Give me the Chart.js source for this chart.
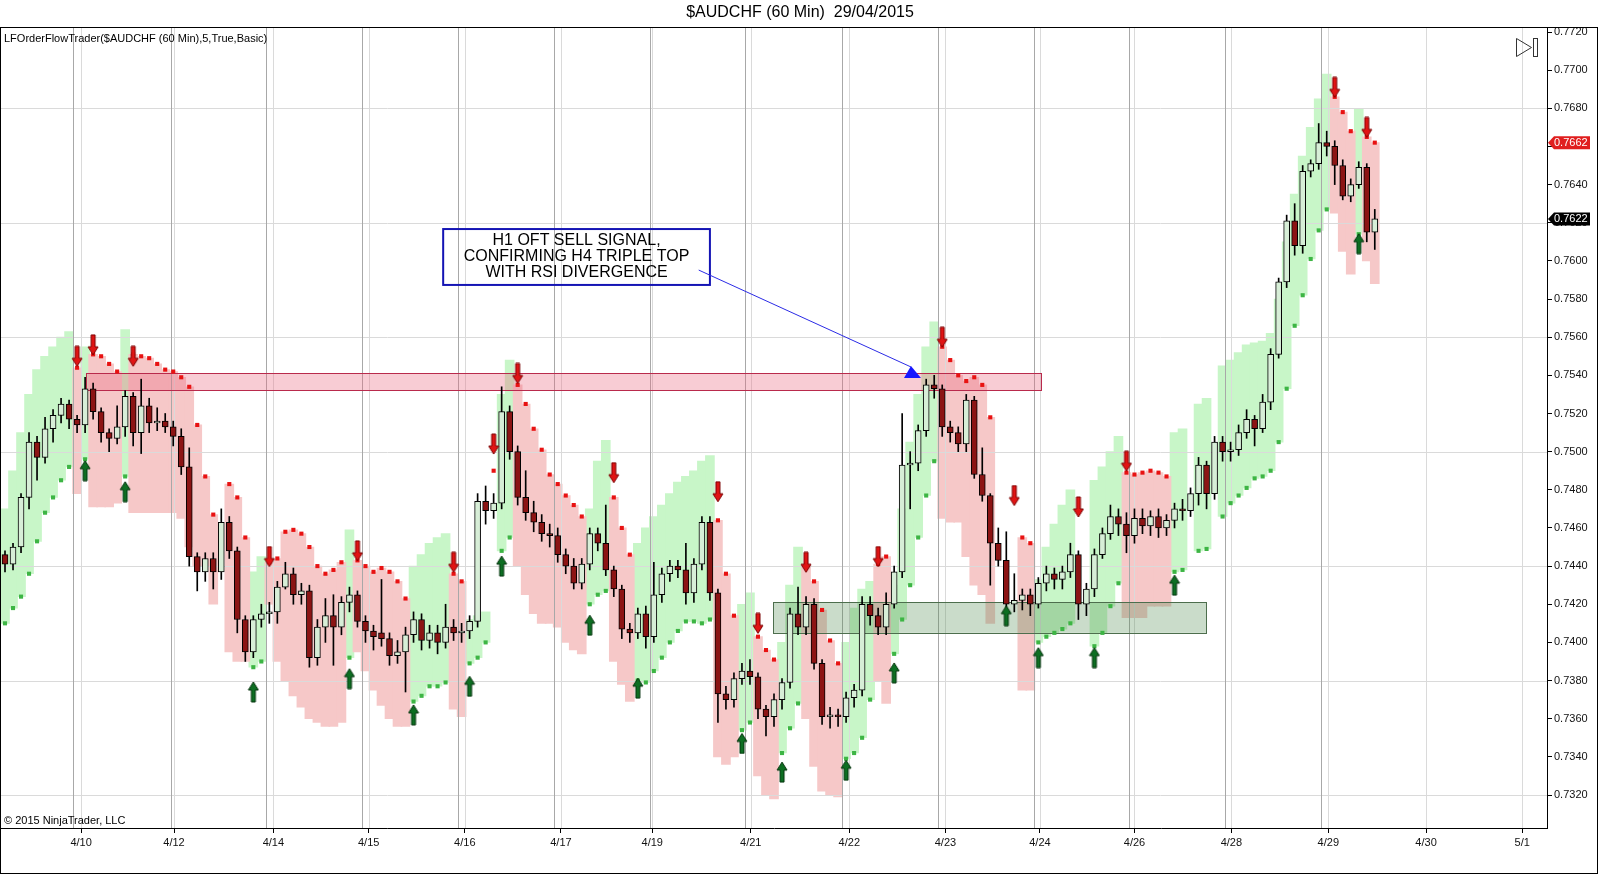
<!DOCTYPE html>
<html>
<head>
<meta charset="utf-8">
<title>$AUDCHF (60 Min) 29/04/2015</title>
<script src="https://cdn.jsdelivr.net/npm/chart.js@4.4.1/dist/chart.umd.min.js"></script>
<style>
  html, body { margin: 0; padding: 0; background: #fff; }
  #wrap { position: relative; width: 1600px; height: 874px; }
</style>
</head>
<body>
<div id="wrap"><canvas id="chart" width="1600" height="874"></canvas></div>
<script>
const _ = null;

// price bars (one bar per 2 hours)
const opens = [
  0.7446,0.7441,0.7450,0.7476,0.7505,0.7497,0.7512,0.7519,0.7525,0.7517,
  0.7514,0.7533,0.7521,0.7510,0.7507,0.7513,0.7529,0.7510,0.7524,0.7515,
  0.7516,0.7513,0.7508,0.7492,0.7445,0.7437,0.7444,0.7437,0.7463,0.7448,
  0.7412,0.7395,0.7412,0.7415,0.7416,0.7429,0.7436,0.7425,0.7427,0.7392,
  0.7408,0.7414,0.7408,0.7421,0.7425,0.7411,0.7406,0.7405,0.7402,0.7393,
  0.7395,0.7404,0.7412,0.7401,0.7405,0.7400,0.7408,0.7405,0.7406,0.7411,
  0.7474,0.7469,0.7473,0.7521,0.7500,0.7476,0.7468,0.7463,0.7457,0.7456,
  0.7446,0.7440,0.7431,0.7441,0.7457,0.7452,0.7438,0.7428,0.7407,0.7405,
  0.7415,0.7403,0.7425,0.7436,0.7440,0.7438,0.7426,0.7441,0.7463,0.7426,
  0.7373,0.7370,0.7381,0.7385,0.7382,0.7365,0.7361,0.7370,0.7379,0.7415,
  0.7408,0.7420,0.7389,0.7361,0.7362,0.7361,0.7371,0.7375,0.7420,0.7414,
  0.7408,0.7420,0.7437,0.7493,0.7494,0.7511,0.7535,0.7533,0.7513,0.7510,
  0.7504,0.7527,0.7488,0.7477,0.7452,0.7443,0.7420,0.7422,0.7425,0.7420,
  0.7431,0.7436,0.7433,0.7437,0.7446,0.7420,0.7428,0.7446,0.7457,0.7466,
  0.7462,0.7456,0.7465,0.7461,0.7466,0.7460,0.7464,0.7470,0.7469,0.7478,
  0.7493,0.7478,0.7505,0.7500,0.7501,0.7510,0.7517,0.7512,0.7526,0.7551,
  0.7589,0.7621,0.7608,0.7647,0.7651,0.7662,0.7660,0.7650,0.7634,0.7640,
  0.7649,0.7615
];
const highs = [
  0.7448,0.7452,0.7478,0.7510,0.7508,0.7518,0.7522,0.7528,0.7527,0.7519,
  0.7539,0.7536,0.7523,0.7512,0.7524,0.7532,0.7531,0.7538,0.7528,0.7523,
  0.7520,0.7516,0.7512,0.7502,0.7447,0.7447,0.7447,0.7470,0.7466,0.7450,
  0.7414,0.7414,0.7420,0.7421,0.7432,0.7442,0.7439,0.7431,0.7430,0.7412,
  0.7423,0.7425,0.7424,0.7429,0.7427,0.7414,0.7409,0.7433,0.7405,0.7401,
  0.7408,0.7416,0.7415,0.7409,0.7409,0.7420,0.7412,0.7410,0.7414,0.7478,
  0.7482,0.7478,0.7534,0.7524,0.7503,0.7490,0.7474,0.7467,0.7462,0.7460,
  0.7449,0.7444,0.7444,0.7460,0.7460,0.7472,0.7440,0.7430,0.7410,0.7418,
  0.7419,0.7442,0.7439,0.7443,0.7443,0.7452,0.7444,0.7466,0.7466,0.7428,
  0.7377,0.7384,0.7389,0.7391,0.7384,0.7367,0.7373,0.7381,0.7418,0.7429,
  0.7424,0.7423,0.7391,0.7366,0.7365,0.7374,0.7378,0.7424,0.7424,0.7418,
  0.7426,0.7440,0.7520,0.7500,0.7514,0.7538,0.7540,0.7535,0.7516,0.7513,
  0.7530,0.7529,0.7502,0.7478,0.7460,0.7458,0.7436,0.7428,0.7428,0.7434,
  0.7440,0.7439,0.7440,0.7452,0.7448,0.7431,0.7449,0.7460,0.7472,0.7470,
  0.7468,0.7470,0.7470,0.7469,0.7470,0.7467,0.7473,0.7475,0.7481,0.7497,
  0.7495,0.7508,0.7508,0.7505,0.7514,0.7522,0.7519,0.7530,0.7554,0.7591,
  0.7624,0.7630,0.7650,0.7653,0.7672,0.7668,0.7663,0.7653,0.7643,0.7652,
  0.7651,0.7627
];
const lows = [
  0.7437,0.7438,0.7447,0.7470,0.7485,0.7494,0.7505,0.7515,0.7512,0.7510,
  0.7510,0.7517,0.7505,0.7500,0.7504,0.7508,0.7503,0.7499,0.7510,0.7511,
  0.7510,0.7503,0.7488,0.7440,0.7427,0.7432,0.7428,0.7433,0.7444,0.7405,
  0.7390,0.7392,0.7408,0.7410,0.7410,0.7428,0.7420,0.7420,0.7387,0.7388,
  0.7400,0.7388,0.7404,0.7416,0.7408,0.7400,0.7396,0.7398,0.7388,0.7389,
  0.7374,0.7400,0.7396,0.7397,0.7394,0.7397,0.7401,0.7400,0.7402,0.7408,
  0.7462,0.7465,0.7470,0.7496,0.7472,0.7464,0.7458,0.7453,0.7450,0.7442,
  0.7436,0.7428,0.7428,0.7438,0.7448,0.7435,0.7424,0.7402,0.7400,0.7402,
  0.7397,0.7400,0.7421,0.7432,0.7434,0.7420,0.7421,0.7438,0.7422,0.7358,
  0.7365,0.7366,0.7378,0.7378,0.7360,0.7351,0.7356,0.7365,0.7376,0.7404,
  0.7404,0.7386,0.7357,0.7355,0.7356,0.7358,0.7366,0.7372,0.7409,0.7404,
  0.7404,0.7418,0.7434,0.7470,0.7490,0.7508,0.7528,0.7508,0.7505,0.7500,
  0.7500,0.7486,0.7474,0.7430,0.7440,0.7414,0.7416,0.7417,0.7414,0.7418,
  0.7427,0.7428,0.7428,0.7434,0.7412,0.7414,0.7424,0.7444,0.7454,0.7456,
  0.7447,0.7452,0.7457,0.7456,0.7455,0.7456,0.7460,0.7464,0.7466,0.7472,
  0.7470,0.7475,0.7495,0.7495,0.7498,0.7507,0.7503,0.7510,0.7522,0.7549,
  0.7586,0.7603,0.7604,0.7644,0.7648,0.7655,0.7640,0.7632,0.7631,0.7638,
  0.7610,0.7606
];
const closes = [
  0.7441,0.7450,0.7476,0.7505,0.7497,0.7512,0.7519,0.7525,0.7517,0.7514,
  0.7533,0.7521,0.7510,0.7507,0.7513,0.7529,0.7510,0.7524,0.7515,0.7516,
  0.7513,0.7508,0.7492,0.7445,0.7437,0.7444,0.7437,0.7463,0.7448,0.7412,
  0.7395,0.7412,0.7415,0.7416,0.7429,0.7436,0.7425,0.7427,0.7392,0.7408,
  0.7414,0.7408,0.7421,0.7425,0.7411,0.7406,0.7403,0.7402,0.7393,0.7395,
  0.7404,0.7412,0.7401,0.7405,0.7400,0.7408,0.7405,0.7406,0.7411,0.7474,
  0.7469,0.7473,0.7521,0.7500,0.7476,0.7468,0.7463,0.7457,0.7456,0.7446,
  0.7440,0.7431,0.7441,0.7457,0.7452,0.7438,0.7428,0.7407,0.7405,0.7415,
  0.7403,0.7425,0.7436,0.7440,0.7438,0.7426,0.7441,0.7463,0.7426,0.7373,
  0.7370,0.7381,0.7385,0.7382,0.7365,0.7361,0.7370,0.7379,0.7415,0.7408,
  0.7420,0.7389,0.7361,0.7362,0.7361,0.7371,0.7375,0.7420,0.7414,0.7408,
  0.7420,0.7437,0.7493,0.7494,0.7511,0.7535,0.7533,0.7513,0.7510,0.7504,
  0.7527,0.7488,0.7477,0.7452,0.7443,0.7420,0.7422,0.7425,0.7420,0.7431,
  0.7436,0.7433,0.7437,0.7446,0.7420,0.7428,0.7446,0.7457,0.7466,0.7462,
  0.7456,0.7465,0.7461,0.7466,0.7460,0.7464,0.7470,0.7469,0.7478,0.7493,
  0.7478,0.7505,0.7500,0.7501,0.7510,0.7517,0.7512,0.7526,0.7551,0.7589,
  0.7621,0.7608,0.7647,0.7651,0.7662,0.7660,0.7650,0.7634,0.7640,0.7649,
  0.7615,0.7622
];

// order flow indicator: long stop (green) with its cloud top, short stop (red) with its cloud bottom
const longStop = [
  0.7410,0.7418,0.7424,0.7436,0.7453,0.7468,0.7476,0.7485,0.7492,_,
  0.7496,_,_,_,_,0.7487,_,_,_,_,
  _,_,_,_,_,_,_,_,_,_,
  _,0.7387,0.7390,_,_,_,_,_,_,_,
  _,_,_,0.7392,_,_,_,_,_,_,
  _,0.7369,0.7372,0.7377,0.7377,0.7379,_,_,0.7389,0.7392,
  0.7400,_,0.7448,0.7455,_,_,_,_,_,_,
  _,_,_,0.7420,0.7425,0.7427,_,_,_,0.7380,
  0.7379,0.7385,0.7392,0.7400,0.7406,0.7411,0.7411,0.7410,0.7412,_,
  _,_,0.7354,0.7358,_,_,_,0.7342,0.7355,0.7368,
  _,_,_,_,_,0.7339,0.7342,0.7350,0.7370,_,
  _,0.7394,0.7412,0.7430,0.7455,0.7477,0.7495,_,_,_,
  _,_,_,_,_,_,_,_,_,0.7400,
  0.7403,0.7405,0.7407,0.7410,_,_,0.7398,0.7405,0.7419,0.7431,
  _,_,_,_,_,_,0.7437,0.7438,_,0.7448,
  0.7449,_,0.7466,0.7473,0.7477,0.7481,0.7486,0.7487,0.7490,0.7505,
  0.7533,0.7566,0.7582,0.7601,0.7616,0.7627,_,_,_,0.7614,
  _,_
];
const longCloudTop = [
  0.7470,0.7490,0.7510,0.7530,0.7543,0.7550,0.7555,0.7560,0.7563,_,
  0.7555,_,_,_,_,0.7564,_,_,_,_,
  _,_,_,_,_,_,_,_,_,_,
  _,0.7437,0.7445,_,_,_,_,_,_,_,
  _,_,_,0.7459,_,_,_,_,_,_,
  _,0.7440,0.7446,0.7452,0.7455,0.7457,_,_,0.7412,0.7414,
  0.7416,_,0.7530,0.7548,_,_,_,_,_,_,
  _,_,_,0.7470,0.7495,0.7506,_,_,_,0.7452,
  0.7460,0.7466,0.7472,0.7478,0.7484,0.7487,0.7490,0.7495,0.7498,_,
  _,_,0.7420,0.7426,_,_,_,0.7400,0.7430,0.7450,
  _,_,_,_,_,0.7400,0.7418,0.7428,0.7432,_,
  _,0.7430,0.7470,0.7505,0.7530,0.7555,0.7568,_,_,_,
  _,_,_,_,_,_,_,_,_,0.7433,
  0.7450,0.7462,0.7472,0.7480,_,_,0.7485,0.7492,0.7500,0.7508,
  _,_,_,_,_,_,0.7510,0.7512,_,0.7525,
  0.7528,_,0.7545,0.7548,0.7552,0.7556,0.7557,0.7558,0.7562,0.7580,
  0.7610,0.7635,0.7655,0.7670,0.7685,0.7698,_,_,_,0.7680,
  _,_
];
const shortStop = [
  _,_,_,_,_,_,_,_,_,0.7544,
  _,0.7551,0.7550,0.7546,0.7542,_,0.7551,0.7550,0.7549,0.7546,
  0.7543,0.7542,0.7539,0.7534,0.7514,0.7487,0.7467,_,0.7483,0.7476,
  0.7455,_,_,0.7442,0.7444,0.7458,0.7459,0.7457,0.7450,0.7440,
  0.7436,0.7438,0.7442,_,0.7443,0.7440,0.7437,0.7439,0.7437,0.7432,
  0.7423,_,_,_,_,_,0.7436,0.7432,_,_,
  _,0.7490,_,_,0.7535,0.7525,0.7512,0.7501,0.7488,0.7483,
  0.7477,0.7472,0.7466,_,_,_,0.7476,0.7460,0.7446,_,
  _,_,_,_,_,_,_,_,_,0.7464,
  0.7436,0.7414,_,_,0.7403,0.7396,0.7391,_,_,_,
  0.7441,0.7432,0.7417,0.7401,0.7389,_,_,_,_,0.7441,
  0.7445,_,_,_,_,_,_,0.7555,0.7548,0.7540,
  0.7537,0.7539,0.7535,0.7518,_,_,_,0.7455,0.7452,_,
  _,_,_,_,_,_,_,_,_,_,
  0.7489,0.7488,0.7489,0.7490,0.7489,0.7487,_,_,_,_,
  _,_,_,_,_,_,_,_,_,_,
  _,_,_,_,_,_,0.7686,0.7678,0.7668,_,
  0.7665,0.7662
];
const shortCloudBottom = [
  _,_,_,_,_,_,_,_,_,0.7478,
  _,0.7471,0.7471,0.7471,0.7473,_,0.7468,0.7468,0.7468,0.7468,
  0.7468,0.7468,0.7465,0.7450,0.7440,0.7440,0.7420,_,0.7395,0.7390,
  0.7390,_,_,0.7420,0.7390,0.7380,0.7372,0.7366,0.7360,0.7358,
  0.7356,0.7356,0.7358,_,0.7395,0.7385,0.7375,0.7367,0.7360,0.7356,
  0.7356,_,_,_,_,_,0.7365,0.7361,_,_,
  _,_,_,_,0.7440,0.7425,0.7415,0.7410,0.7410,0.7408,
  0.7400,0.7396,0.7394,_,_,_,0.7390,0.7378,0.7369,_,
  _,_,_,_,_,_,_,_,_,0.7340,
  0.7336,0.7340,_,_,0.7330,0.7320,0.7318,_,_,_,
  0.7360,0.7335,0.7322,0.7320,0.7319,_,_,_,_,0.7380,
  0.7368,_,_,_,_,_,_,0.7465,0.7463,0.7463,
  0.7445,0.7430,0.7425,0.7410,_,_,_,0.7375,0.7375,_,
  _,_,_,_,_,_,_,_,_,_,
  0.7413,0.7413,0.7413,0.7419,0.7419,0.7419,_,_,_,_,
  _,_,_,_,_,_,_,_,_,_,
  _,_,_,_,_,_,0.7625,0.7605,0.7593,_,
  0.7600,0.7588
];

// signal arrows: bar index and price
const buyBars   = [10,15,31,43,51,58,62,73,79,92,97,105,111,125,129,136,146,169];
const buyPrice  = [0.7490,0.7479,0.7374,0.7381,0.7362,0.7377,0.7440,0.7409,0.7376,0.7347,0.7332,0.7333,0.7384,0.7414,0.7392,0.7392,0.7430,0.7609];
const sellBars  = [9,11,16,33,44,56,61,64,76,89,94,100,109,117,126,134,140,166,170];
const sellPrice = [0.7550,0.7556,0.7550,0.7445,0.7448,0.7442,0.7504,0.7541,0.7489,0.7479,0.7410,0.7442,0.7445,0.7560,0.7477,0.7471,0.7495,0.7691,0.7670];

// time axis: label positions in bar units, and the session breaks just before them
const dayLabels  = ['4/10','4/12','4/14','4/15','4/16','4/17','4/19','4/21','4/22','4/23','4/24','4/26','4/28','4/29','4/30','5/1'];
const dayTicks   = [9.5,21.1,33.5,45.4,57.4,69.4,80.8,93.1,105.4,117.4,129.2,141,153.1,165.2,177.4,189.4];
const sessionBreaks = [8.55,20.7,32.6,44.6,56.5,68.5,80.5,92.4,104.5,116.5,128.5,140.3,152.3,164.3];

// price axis
const priceTicks = [0.7320,0.7340,0.7360,0.7380,0.7400,0.7420,0.7440,0.7460,0.7480,0.7500,
                    0.7520,0.7540,0.7560,0.7580,0.7600,0.7620,0.7640,0.7660,0.7680,0.7700,0.7720];
const priceGrid  = [0.7320,0.7380,0.7440,0.7500,0.7560,0.7620,0.7680];

// drawn zones (bar units / prices)
const zoneFrom = [10.1, 95.9];
const zoneTo   = [129.3, 150.0];
const zoneHigh = [0.7541, 0.7421];
const zoneLow  = [0.7532, 0.7405];

// text note and its pointer
const noteLines = ['H1 OFT SELL SIGNAL,', 'CONFIRMING H4 TRIPLE TOP', 'WITH RSI DIVERGENCE'];
const noteBox = [54.7, 88.0, 0.76167, 0.75874];      // left, right, top, bottom
const notePointer = [86.6, 0.75952, 113.1, 0.75444]; // from x,y to x,y

const FONT = '"Liberation Sans", Arial, sans-serif';
Chart.defaults.font.family = FONT;

const idx = opens.map((v, i) => i);
const bodies = idx.map(i => ({ x: i, y: [Math.min(opens[i], closes[i]), Math.max(opens[i], closes[i])] }));
const wicks = idx.map(i => ({ x: i, y: [lows[i], highs[i]] }));
const bodyColors = idx.map(i => closes[i] >= opens[i] ? '#d7eed7' : '#8c1414');
const band = (lo, hi) => idx.filter(i => lo[i] != null && hi[i] != null).map(i => ({ x: i, y: [lo[i], hi[i]] }));
const pts = arr => idx.filter(i => arr[i] != null).map(i => ({ x: i, y: arr[i] }));
const marks = (bars, prices) => bars.map((b, k) => ({ x: b, y: prices[k] }));

function makeArrow(up, fill, stroke) {
  const c = document.createElement('canvas');
  c.width = 12; c.height = 22;
  const g = c.getContext('2d');
  g.beginPath();
  if (up) {
    g.moveTo(6, 1); g.lineTo(11, 9); g.lineTo(8, 9); g.lineTo(8, 21);
    g.lineTo(4, 21); g.lineTo(4, 9); g.lineTo(1, 9);
  } else {
    g.moveTo(6, 21); g.lineTo(11, 13); g.lineTo(8, 13); g.lineTo(8, 1);
    g.lineTo(4, 1); g.lineTo(4, 13); g.lineTo(1, 13);
  }
  g.closePath();
  g.fillStyle = fill; g.fill();
  g.lineWidth = 1; g.strokeStyle = stroke; g.stroke();
  return c;
}
const upArrow = makeArrow(true, '#0d6e22', '#04320c');
const downArrow = makeArrow(false, '#e01414', '#7a0000');

function drawGrid(chart) {
  const { ctx, chartArea: a, scales: { x, y } } = chart;
  ctx.save();
  ctx.lineWidth = 1;
  ctx.strokeStyle = '#dadada';
  ctx.beginPath();
  priceGrid.forEach(p => {
    const py = Math.round(y.getPixelForValue(p)) + 0.5;
    ctx.moveTo(a.left, py); ctx.lineTo(a.right, py);
  });
  dayTicks.forEach(v => {
    const px = Math.round(x.getPixelForValue(v)) + 0.5;
    ctx.moveTo(px, a.top); ctx.lineTo(px, a.bottom);
  });
  ctx.stroke();
  ctx.strokeStyle = '#a8a8a8';
  ctx.beginPath();
  sessionBreaks.forEach(v => {
    const px = Math.round(x.getPixelForValue(v)) + 0.5;
    ctx.moveTo(px, a.top); ctx.lineTo(px, a.bottom);
  });
  ctx.stroke();
  ctx.restore();
}

function drawZones(chart) {
  const { ctx, scales: { x, y } } = chart;
  const fills = ['rgba(236,110,132,0.35)', 'rgba(80,140,80,0.30)'];
  const lines = ['#b92a4c', '#4d6e4d'];
  ctx.save();
  zoneFrom.forEach((f, k) => {
    const x0 = x.getPixelForValue(f), x1 = x.getPixelForValue(zoneTo[k]);
    const y0 = y.getPixelForValue(zoneHigh[k]), y1 = y.getPixelForValue(zoneLow[k]);
    ctx.fillStyle = fills[k];
    ctx.fillRect(x0, y0, x1 - x0, y1 - y0);
    ctx.strokeStyle = lines[k];
    ctx.lineWidth = 1;
    ctx.strokeRect(Math.round(x0) + 0.5, Math.round(y0) + 0.5, Math.round(x1 - x0), Math.round(y1 - y0));
  });
  ctx.restore();
}

const decor = {
  id: 'decor',
  beforeDraw(chart) {
    const { ctx } = chart;
    ctx.save();
    ctx.fillStyle = '#fff';
    ctx.fillRect(0, 0, chart.width, chart.height);
    ctx.restore();
  },
  afterDatasetDraw(chart, args) {
    if (args.index === 1) { drawGrid(chart); drawZones(chart); }
  },
  afterDraw(chart) {
    const { ctx, chartArea: a, scales: { x, y } } = chart;
    ctx.save();
    // frame
    ctx.strokeStyle = '#000';
    ctx.lineWidth = 1;
    ctx.strokeRect(0.5, 27.5, 1597, 846);
    ctx.beginPath();
    ctx.moveTo(a.right + 0.5, a.top); ctx.lineTo(a.right + 0.5, a.bottom);
    ctx.stroke();

    // title and captions
    ctx.fillStyle = '#000';
    ctx.textBaseline = 'middle';
    ctx.textAlign = 'center';
    ctx.font = '16px ' + FONT;
    ctx.fillText('$AUDCHF (60 Min)  29/04/2015', 800, 13);
    ctx.textAlign = 'left';
    ctx.font = '11px ' + FONT;
    ctx.fillText('LFOrderFlowTrader($AUDCHF (60 Min),5,True,Basic)', 4, 39);
    ctx.fillText('\u00A9 2015 NinjaTrader, LLC', 4, 821);

    // play-to-end icon
    ctx.strokeStyle = '#333';
    ctx.beginPath();
    ctx.moveTo(1516.5, 38.5); ctx.lineTo(1516.5, 56.5); ctx.lineTo(1531.5, 47.5); ctx.closePath();
    ctx.stroke();
    ctx.strokeRect(1533.5, 38.5, 4, 18);

    // note box
    const bx0 = x.getPixelForValue(noteBox[0]), bx1 = x.getPixelForValue(noteBox[1]);
    const by0 = y.getPixelForValue(noteBox[2]), by1 = y.getPixelForValue(noteBox[3]);
    ctx.strokeStyle = '#1414b4';
    ctx.lineWidth = 2;
    ctx.strokeRect(bx0, by0, bx1 - bx0, by1 - by0);
    ctx.fillStyle = '#000';
    ctx.textAlign = 'center';
    ctx.font = '16px ' + FONT;
    noteLines.forEach((t, k) => ctx.fillText(t, (bx0 + bx1) / 2, by0 + 12 + k * 16));

    // pointer line with head
    const px0 = x.getPixelForValue(notePointer[0]), py0 = y.getPixelForValue(notePointer[1]);
    const px1 = x.getPixelForValue(notePointer[2]), py1 = y.getPixelForValue(notePointer[3]);
    ctx.strokeStyle = '#2b2be6';
    ctx.lineWidth = 1;
    ctx.beginPath(); ctx.moveTo(px0, py0); ctx.lineTo(px1, py1); ctx.stroke();
    ctx.fillStyle = '#1717ff';
    ctx.beginPath();
    ctx.moveTo(px1, py1 - 1); ctx.lineTo(px1 + 10, py1 + 11); ctx.lineTo(px1 - 7, py1 + 11); ctx.closePath();
    ctx.fill();

    // last value tags on the price axis
    const last = closes.length - 1;
    [[shortStop[last], '#e01e1e'], [closes[last], '#000']].forEach(([p, bg]) => {
      const ty = y.getPixelForValue(p);
      ctx.fillStyle = bg;
      ctx.beginPath();
      ctx.moveTo(a.right + 1, ty);
      ctx.lineTo(a.right + 7, ty - 6.5);
      ctx.lineTo(1590, ty - 6.5);
      ctx.lineTo(1590, ty + 6.5);
      ctx.lineTo(a.right + 7, ty + 6.5);
      ctx.closePath();
      ctx.fill();
      ctx.fillStyle = '#fff';
      ctx.textAlign = 'left';
      ctx.font = '11px ' + FONT;
      ctx.fillText(p.toFixed(4), a.right + 7, ty + 0.5);
    });
    ctx.restore();
  }
};

new Chart(document.getElementById('chart'), {
  type: 'bar',
  data: {
    datasets: [
      { type: 'bar', label: 'long cloud', data: band(longStop, longCloudTop), backgroundColor: '#c8f6c8',
        borderWidth: 0, barThickness: 9, grouped: false, order: 20 },
      { type: 'bar', label: 'short cloud', data: band(shortCloudBottom, shortStop), backgroundColor: '#f6c8c8',
        borderWidth: 0, barThickness: 9, grouped: false, order: 19 },
      { type: 'bar', label: 'wicks', data: wicks, backgroundColor: '#000',
        borderWidth: 0, barThickness: 1, grouped: false, order: 10 },
      { type: 'bar', label: 'bodies', data: bodies, backgroundColor: bodyColors, borderColor: '#000',
        borderWidth: 1, borderSkipped: false, barThickness: 6, minBarLength: 1, grouped: false, order: 9 },
      { type: 'line', label: 'long stop', data: pts(longStop), showLine: false, pointStyle: 'rect',
        pointRadius: 2.9, pointBackgroundColor: '#3db544', pointBorderWidth: 0, order: 5 },
      { type: 'line', label: 'short stop', data: pts(shortStop), showLine: false, pointStyle: 'rect',
        pointRadius: 2.9, pointBackgroundColor: '#e81212', pointBorderWidth: 0, order: 5 },
      { type: 'line', label: 'buy', data: marks(buyBars, buyPrice), showLine: false,
        pointStyle: upArrow, pointRadius: 8, order: 4 },
      { type: 'line', label: 'sell', data: marks(sellBars, sellPrice), showLine: false,
        pointStyle: downArrow, pointRadius: 8, order: 4 }
    ]
  },
  options: {
    responsive: false,
    animation: false,
    events: [],
    layout: { autoPadding: false, padding: { top: 28, left: 1, right: 0, bottom: 0 } },
    plugins: { legend: { display: false }, tooltip: { enabled: false }, title: { display: false } },
    scales: {
      x: {
        type: 'linear', min: -0.5, max: 192.5, bounds: 'data', offset: false,
        afterBuildTicks: s => { s.ticks = dayTicks.map(v => ({ value: v })); },
        afterFit: s => { s.height = 46; s.paddingLeft = 0; s.paddingRight = 0; },
        grid: { display: true, offset: false, drawOnChartArea: false, color: 'rgba(0,0,0,0)', tickColor: '#000', tickLength: 5 },
        border: { display: true, color: '#000', width: 1 },
        ticks: { autoSkip: false, maxRotation: 0, padding: 3, color: '#111', font: { size: 11 },
                 callback: (v, k) => dayLabels[k] }
      },
      y: {
        position: 'right', min: 0.73027, max: 0.77221, bounds: 'data',
        afterBuildTicks: s => { s.ticks = priceTicks.map(v => ({ value: v })); },
        afterFit: s => { s.width = 53; s.paddingTop = 0; s.paddingBottom = 0; },
        grid: { display: true, drawOnChartArea: false, color: 'rgba(0,0,0,0)', tickColor: '#000', tickLength: 5 },
        border: { display: true, color: '#000', width: 1 },
        ticks: { autoSkip: false, padding: 2, color: '#111', font: { size: 11 },
                 callback: v => v.toFixed(4) }
      }
    }
  },
  plugins: [decor]
});
</script>
</body>
</html>
